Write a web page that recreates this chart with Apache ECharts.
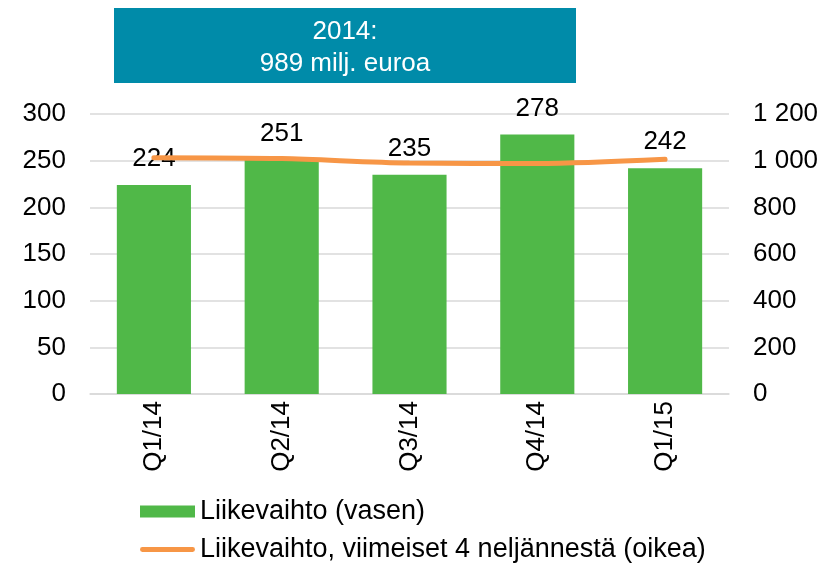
<!DOCTYPE html>
<html>
<head>
<meta charset="utf-8">
<script src="https://cdn.jsdelivr.net/npm/echarts@6/dist/echarts.min.js"></script>
<style>html,body{margin:0;padding:0;background:#fff}#c{width:834px;height:569px}</style>
</head>
<body>
<div id="c"></div>
<script>
var categories = ['Q1/14', 'Q2/14', 'Q3/14', 'Q4/14', 'Q1/15'];
var revenue = [224, 251, 235, 278, 242];
var rolling4q = [1013, 1009, 990, 988, 1006];
var leftTicks = [0, 50, 100, 150, 200, 250, 300];
var rightTicks = [0, 200, 400, 600, 800, 1000, 1200];
var boxLines = ['2014:', '989 milj. euroa'];
var seriesNames = ['Liikevaihto (vasen)', 'Liikevaihto, viimeiset 4 neljännestä (oikea)'];

var FONT = 'Liberation Sans, Arial, sans-serif';
var chart = echarts.init(document.getElementById('c'), null, {renderer: 'canvas'});
function fmtThousands(v) { return String(v).replace(/\B(?=(\d{3})+(?!\d))/g, ' '); }

chart.setOption({
  animation: false,
  textStyle: {fontFamily: FONT},
  grid: {left: 90, right: 105, top: 114, bottom: 175, containLabel: false},
  graphic: [
    {type: 'rect', shape: {x: 114, y: 8, width: 462, height: 75}, style: {fill: '#008BA9'}},
    {type: 'text', x: 345, y: 48, style: {text: boxLines.join('\n'), fill: '#fff', font: '26px ' + FONT, align: 'center', verticalAlign: 'middle', lineHeight: 32}}
  ],
  legend: {
    orient: 'vertical', left: 140, top: 498, width: 690, height: 90, padding: 0,
    itemGap: 11, itemWidth: 55, itemHeight: 12,
    textStyle: {fontSize: 27, color: '#000', fontFamily: FONT},
    data: [
      {name: seriesNames[0], icon: 'rect'},
      {name: seriesNames[1], icon: 'path://M2.5,0H107.5A5,5 0 0 1 107.5,10H2.5A5,5 0 0 1 2.5,0Z'}
    ]
  },
  xAxis: {
    type: 'category', data: categories,
    axisLine: {lineStyle: {color: '#d9d9d9', width: 1.5}},
    axisTick: {show: false},
    axisLabel: {rotate: 90, fontSize: 26, color: '#000', margin: 7, fontFamily: FONT}
  },
  yAxis: [
    {type: 'value', min: leftTicks[0], max: leftTicks[leftTicks.length - 1], interval: 50,
     axisLine: {show: false}, axisTick: {show: false},
     splitLine: {lineStyle: {color: '#d9d9d9', width: 1.5}},
     axisLabel: {fontSize: 26, color: '#000', margin: 24, fontFamily: FONT}},
    {type: 'value', min: rightTicks[0], max: rightTicks[rightTicks.length - 1], interval: 200,
     axisLine: {show: false}, axisTick: {show: false}, splitLine: {show: false},
     axisLabel: {fontSize: 26, color: '#000', margin: 24, fontFamily: FONT, formatter: fmtThousands}}
  ],
  series: [
    {name: seriesNames[0], type: 'bar', data: revenue, yAxisIndex: 0, barWidth: '58%',
     itemStyle: {color: '#50B848'},
     label: {show: true, position: 'top', distance: 13, fontSize: 26, color: '#000', fontFamily: FONT}},
    {name: seriesNames[1], type: 'line', data: rolling4q, yAxisIndex: 1, symbol: 'none', smooth: 0.3,
     lineStyle: {color: '#F79646', width: 5, cap: 'round'}, itemStyle: {color: '#F79646'}, z: 3}
  ]
});
</script>
</body>
</html>
